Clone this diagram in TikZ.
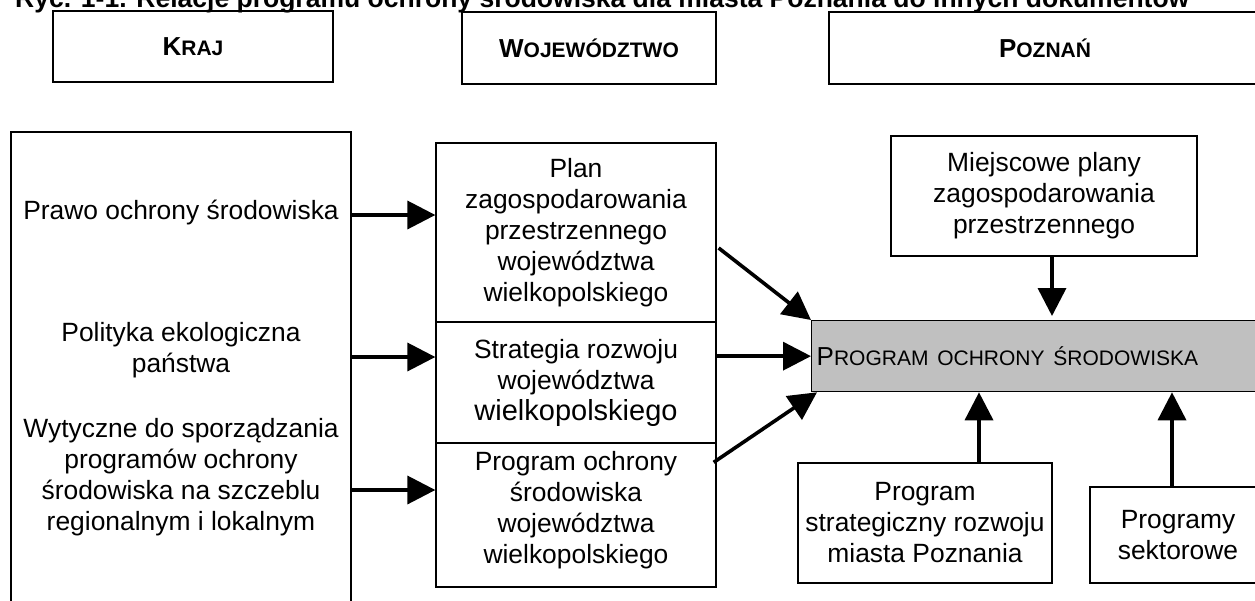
\documentclass[tikz,border=0pt]{standalone}
\usepackage{fontspec}
\setmainfont{Liberation Sans}
\usetikzlibrary{arrows.meta}
\definecolor{boxgray}{RGB}{192,192,192}
\newcommand{\txtfont}{\fontsize{26.4}{31}\selectfont}
\newcommand{\capsc}[2]{{\fontsize{26}{31}\selectfont #1}{\fontsize{21}{31}\selectfont #2}}
\tikzstyle{box}=[draw,line width=1.3pt,align=center,inner sep=0pt,font=\txtfont]
\tikzstyle{head}=[box,font=\txtfont\bfseries,minimum height=72pt]
\tikzstyle{txt}=[align=center,inner sep=0pt,font=\txtfont]
\tikzstyle{arr}=[line width=3.6pt,-{Triangle[length=28pt,width=28pt]}]

\begin{document}
\begin{tikzpicture}[x=1pt,y=-1pt]
    \useasboundingbox (0,0) rectangle (1255,600);
    % title, cut at the top
    \node[anchor=base west,inner sep=0pt,font=\fontsize{26.5}{31}\selectfont\bfseries] (title) at (15,7.5)
        {Ryc. 1-1. Relacje programu ochrony środowiska dla miasta Poznania do innych dokumentów};

    % column heads
    \node[head,minimum width=280pt,minimum height=71pt] (kraj) at (193,46.5) {\capsc{K}{RAJ}};
    \node[head,minimum width=254pt] (woj) at (589,48) {\capsc{W}{OJEWÓDZTWO}};
    \node[head,minimum width=432pt] (pozn) at (1045,48) {\capsc{P}{OZNAŃ}};

    % country level
    \node[box,minimum width=340pt,minimum height=478pt] (krajcol) at (181,371) {};
    \node[txt] (prawo) at (181,213) {Prawo ochrony środowiska};
    \node[txt] (polityka) at (181,350) {Polityka ekologiczna\\państwa};
    \node[txt] (wytyczne) at (181,477) {Wytyczne do sporządzania\\programów ochrony\\środowiska na szczeblu\\regionalnym i lokalnym};

    % voivodeship level
    \node[box,minimum width=280pt,minimum height=179pt] (plan) at (576,232.5)
        {Plan\\zagospodarowania\\przestrzennego\\województwa\\wielkopolskiego};
    \node[box,minimum width=280pt,minimum height=121pt] (strat) at (576,382.5)
        {Strategia rozwoju\\województwa\\{\fontsize{29}{31}\selectfont wielkopolskiego}};
    \node[box,minimum width=280pt,minimum height=144pt] (progw) at (576,515)
        {Program ochrony\\środowiska\\województwa\\wielkopolskiego\\[-16pt]};

    % city level
    \node[box,fill=boxgray,anchor=north west,text width=450pt,align=left,inner xsep=5pt,minimum height=71pt] (gray) at (811,320)
        {\capsc{P}{ROGRAM OCHRONY ŚRODOWISKA}};
    \node[box,minimum width=306pt,minimum height=120pt] (miejsc) at (1044,196)
        {Miejscowe plany\\zagospodarowania\\przestrzennego};
    \node[box,minimum width=254pt,minimum height=120pt] (miasta) at (925,523)
        {Program\\strategiczny rozwoju\\miasta Poznania};
    \node[box,minimum width=176pt,minimum height=96pt] (sektor) at (1178,535)
        {Programy\\sektorowe};

    \foreach \y/\to in {215/plan,357/strat,490/progw}
        \draw[arr] (krajcol.east |- 0,\y) -- (\to.west |- 0,\y);

    \draw[arr] ([xshift=2pt,yshift=-15.5pt]plan.east) -- (gray.north west);
    \draw[arr] (strat.east |- gray.west) -- (gray.west);
    \draw[arr] ([xshift=-3pt,yshift=-20pt]progw.north east) -- ([xshift=6pt]gray.south west);

    \draw[arr,shorten >=4pt] (miejsc.south -| 1052,0) -- (gray.north -| 1052,0);
    \foreach \x/\from in {979/miasta,1172/sektor}
        \draw[arr] (\from.north -| \x,0) -- (gray.south -| \x,0);
\end{tikzpicture}
\end{document}
